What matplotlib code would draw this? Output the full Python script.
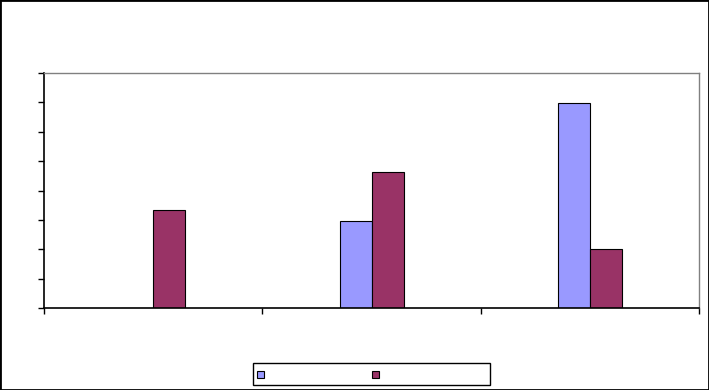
import matplotlib
matplotlib.use("Agg")
import matplotlib.pyplot as plt
from matplotlib.patches import Rectangle
import numpy as np

categories = ["A", "B", "C"]
series1 = [0, 2.97, 6.98]
series2 = [3.33, 4.64, 2.0]
colors = ["#9999FF", "#993366"]
y_max = 8

W, H = 709, 390
fig = plt.figure(figsize=(W / 100, H / 100), dpi=100)
fig.patch.set_facecolor("white")

left_px, right_px, top_px, bot_px = 44.3, 698.8, 73, 308
ax = fig.add_axes([left_px / W, (H - bot_px) / H, (right_px - left_px) / W, (bot_px - top_px) / H])
x = np.arange(len(categories))
bw = 32 / ((right_px - left_px) / 3)
ax.bar(x - bw / 2, series1, bw, color=colors[0], edgecolor="black", linewidth=0.8)
ax.bar(x + bw / 2, series2, bw, color=colors[1], edgecolor="black", linewidth=0.8)

ax.set_xlim(-0.5, len(categories) - 0.5)
ax.set_ylim(0, y_max)
ax.set_xticks(np.arange(-0.5, len(categories), 1.0))
ax.set_yticks(np.arange(0, y_max + 1, 1))
ax.set_xticklabels([])
ax.set_yticklabels([])
ax.tick_params(axis="both", direction="out", length=4, width=1, color="black")
for s in ["left", "bottom"]:
    ax.spines[s].set_color("black")
    ax.spines[s].set_linewidth(1.2)
for s in ["top", "right"]:
    ax.spines[s].set_color("#808080")
    ax.spines[s].set_linewidth(1.0)

# legend (no text), drawn in figure pixel coords
def fr(x0, y0, w, h, **kw):
    return Rectangle((x0 / W, 1 - (y0 + h) / H), w / W, h / H, transform=fig.transFigure, **kw)

fig.patches.append(fr(253, 363, 237, 22, facecolor="white", edgecolor="black", linewidth=1))
fig.patches.append(fr(257, 371, 7, 7, facecolor=colors[0], edgecolor="black", linewidth=0.8))
fig.patches.append(fr(372, 371, 7, 7, facecolor=colors[1], edgecolor="black", linewidth=0.8))

# outer border
fig.patches.append(Rectangle((0, 0), 1, 1, transform=fig.transFigure, facecolor="none",
                             edgecolor="black", linewidth=2))

fig.savefig("out.png", dpi=100)
